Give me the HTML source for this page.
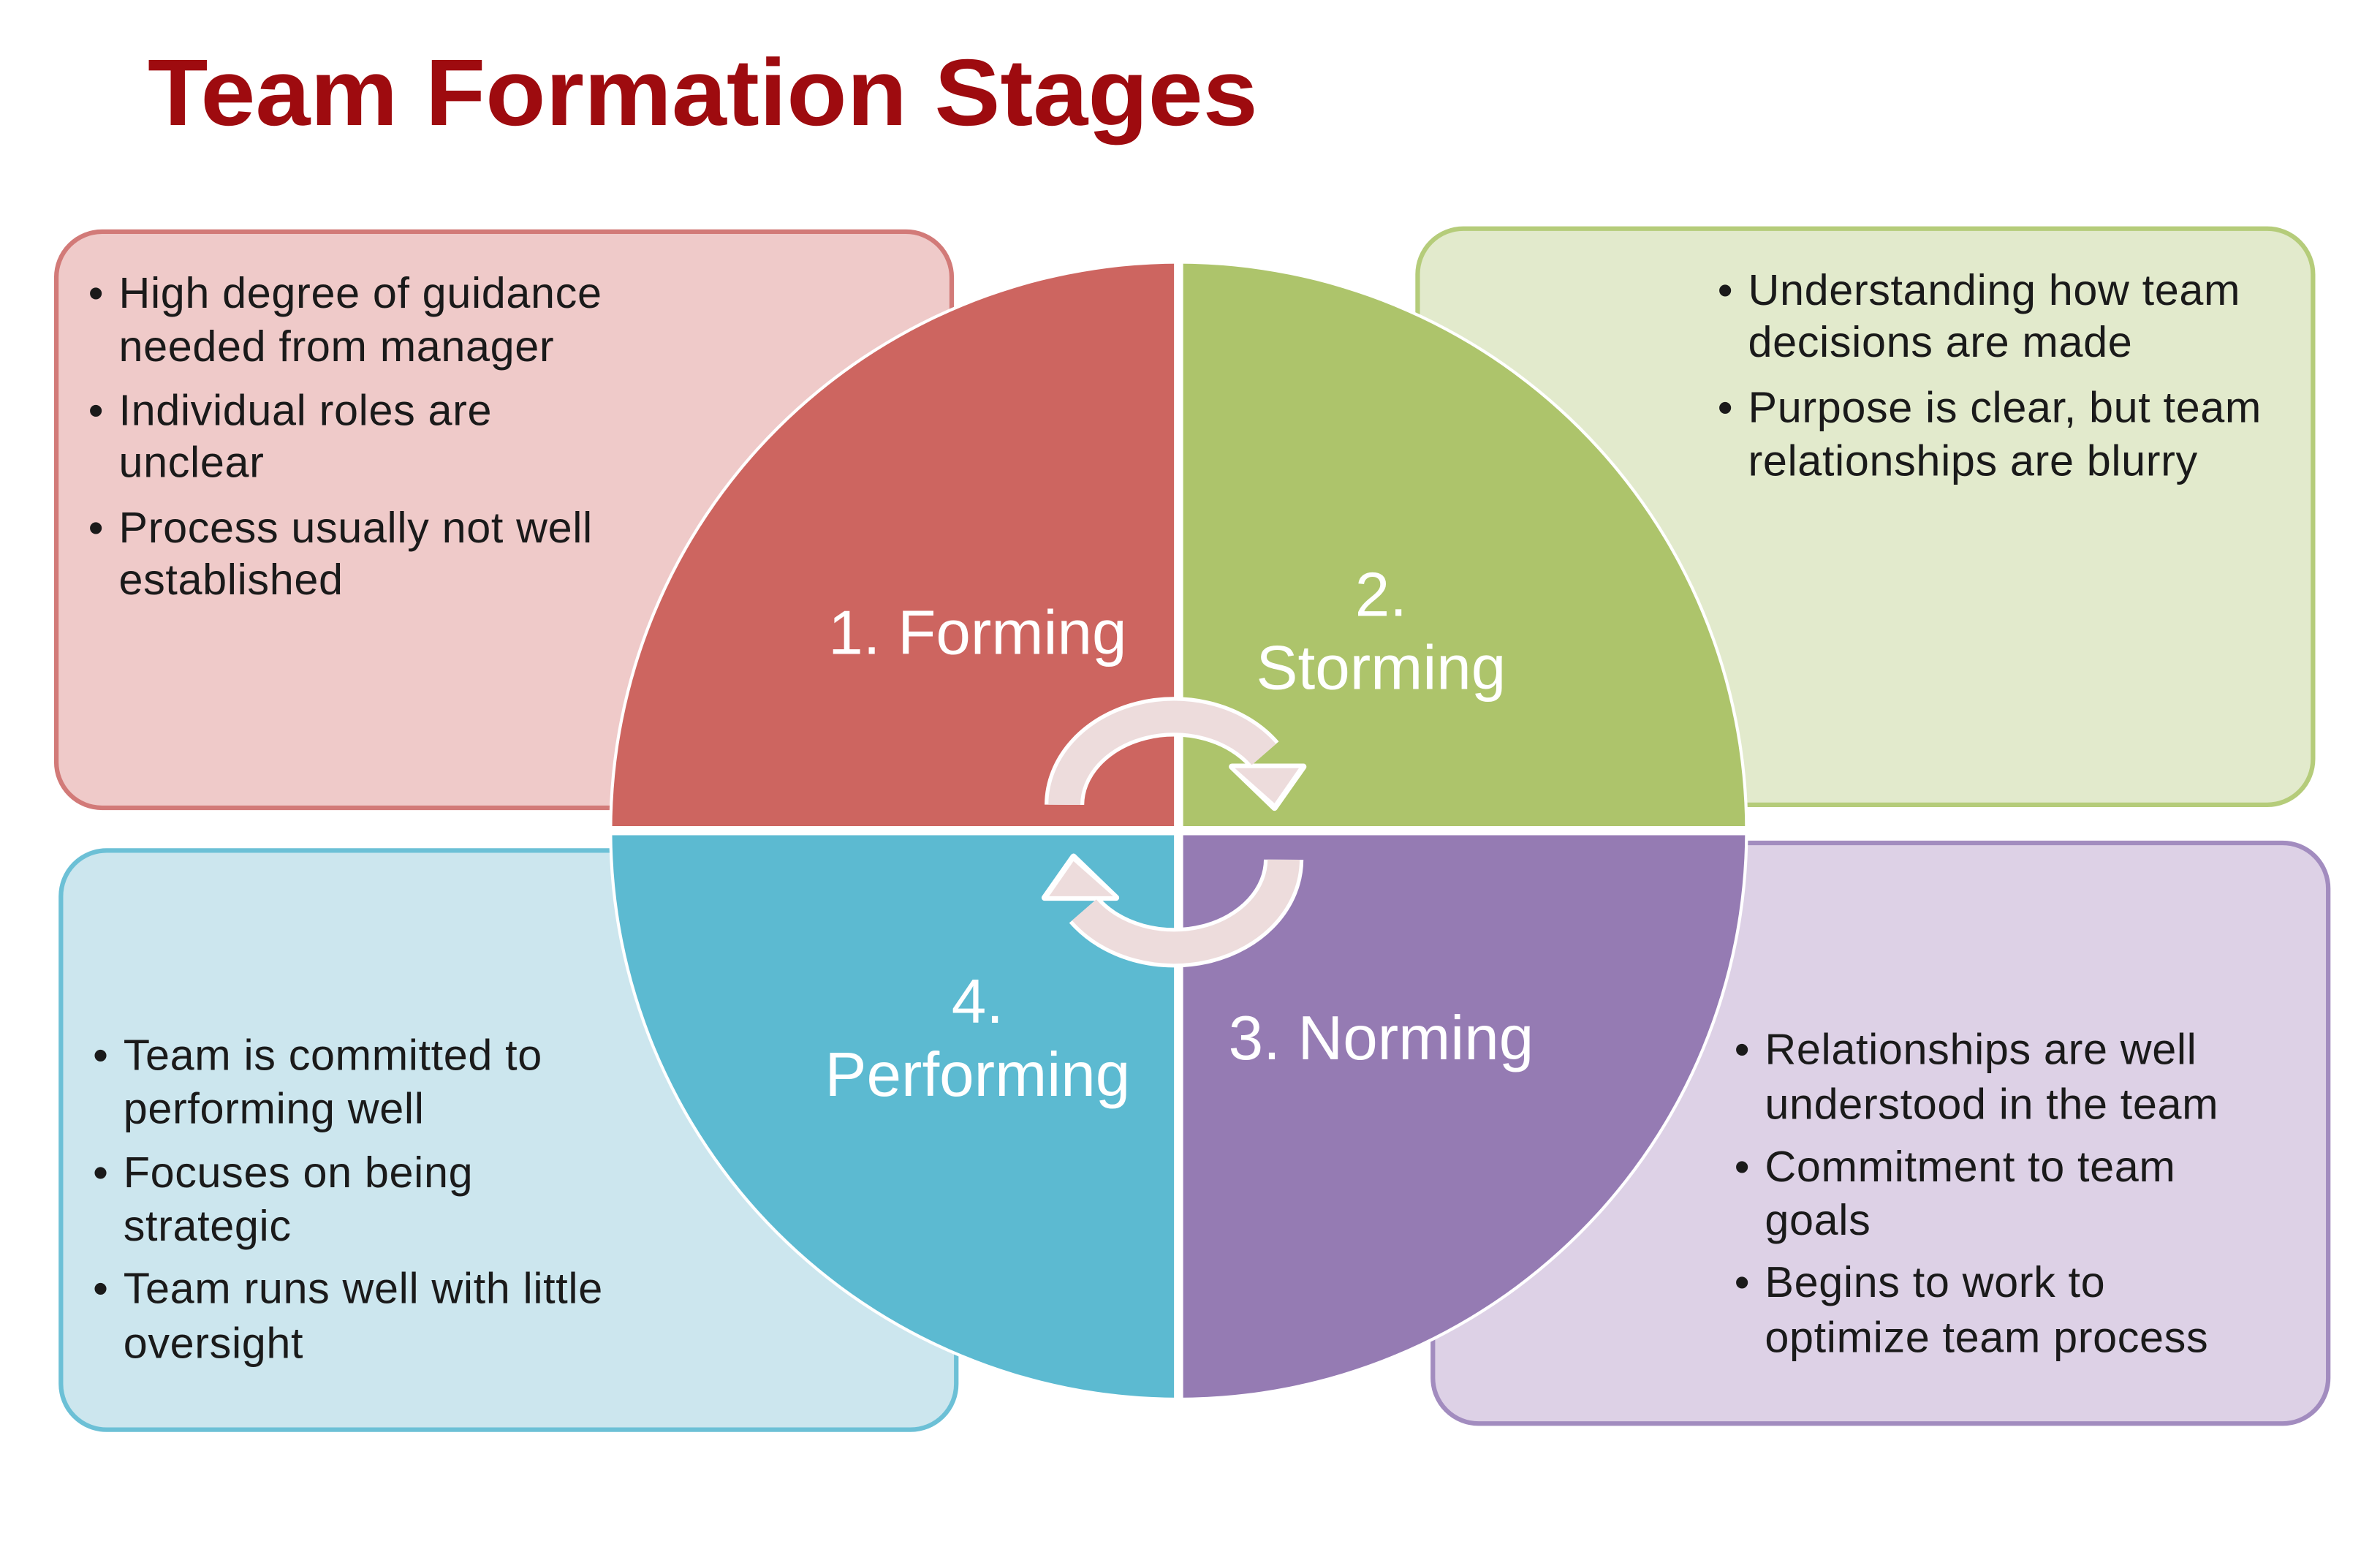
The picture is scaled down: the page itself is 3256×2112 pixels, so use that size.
<!DOCTYPE html>
<html><head><meta charset="utf-8"><style>
html,body{margin:0;padding:0;background:#fff;width:3256px;height:2112px;overflow:hidden}
svg{display:block}
text{font-family:"Liberation Sans",sans-serif}
</style></head><body>
<svg width="3256" height="2112" viewBox="0 0 1563 1013" preserveAspectRatio="none">
<text x="97" y="82" font-size="62" font-weight="bold" fill="#9e0b0f" textLength="729" lengthAdjust="spacingAndGlyphs">Team Formation Stages</text>

<rect x="37" y="152" width="588" height="378" rx="30" fill="#efcac9" stroke="#d27a78" stroke-width="3"/>
<rect x="931" y="150" width="588" height="378" rx="30" fill="#e2eacc" stroke="#b5cc7a" stroke-width="3"/>
<rect x="40" y="558" width="588" height="380" rx="30" fill="#cce6ee" stroke="#6cc0d6" stroke-width="3"/>
<rect x="941" y="553" width="588" height="381" rx="30" fill="#ddd1e6" stroke="#a28cbf" stroke-width="3"/>

<g font-size="28.5" letter-spacing="0.3" fill="#1a1a1a">
<text x="58" y="202">•</text><text x="78" y="202">High degree of guidance</text>
<text x="78" y="237">needed from manager</text>
<text x="58" y="279">•</text><text x="78" y="279">Individual roles are</text>
<text x="78" y="313">unclear</text>
<text x="58" y="356">•</text><text x="78" y="356">Process usually not well</text>
<text x="78" y="390">established</text>
</g>
<g font-size="28.5" letter-spacing="0.3" fill="#1a1a1a">
<text x="1128" y="200">•</text><text x="1148" y="200">Understanding how team</text>
<text x="1148" y="234">decisions are made</text>
<text x="1128" y="277">•</text><text x="1148" y="277">Purpose is clear, but team</text>
<text x="1148" y="312">relationships are blurry</text>
</g>
<g font-size="28.5" letter-spacing="0.3" fill="#1a1a1a">
<text x="61" y="702">•</text><text x="81" y="702">Team is committed to</text>
<text x="81" y="737">performing well</text>
<text x="61" y="779">•</text><text x="81" y="779">Focuses on being</text>
<text x="81" y="814">strategic</text>
<text x="61" y="855">•</text><text x="81" y="855">Team runs well with little</text>
<text x="81" y="891">oversight</text>
</g>
<g font-size="28.5" letter-spacing="0.3" fill="#1a1a1a">
<text x="1139" y="698">•</text><text x="1159" y="698">Relationships are well</text>
<text x="1159" y="734">understood in the team</text>
<text x="1139" y="775">•</text><text x="1159" y="775">Commitment to team</text>
<text x="1159" y="810">goals</text>
<text x="1139" y="851">•</text><text x="1159" y="851">Begins to work to</text>
<text x="1159" y="887">optimize team process</text>
</g>

<circle cx="774" cy="545" r="374" fill="#fff"/>
<path d="M774 545 L402 545 A372 372 0 0 1 774 173 Z" fill="#cd6560"/>
<path d="M774 545 L774 173 A372 372 0 0 1 1146 545 Z" fill="#adc46b"/>
<path d="M774 545 L1146 545 A372 372 0 0 1 774 917 Z" fill="#957bb3"/>
<path d="M774 545 L774 917 A372 372 0 0 1 402 545 Z" fill="#5cbad1"/>
<line x1="774" y1="170" x2="774" y2="920" stroke="#fff" stroke-width="6"/>
<line x1="399" y1="545" x2="1149" y2="545" stroke="#fff" stroke-width="6"/>

<g font-size="41" fill="#fff" text-anchor="middle">
<text x="642" y="429">1. Forming</text>
<text x="907" y="404">2.</text>
<text x="907" y="452">Storming</text>
<text x="642" y="671">4.</text>
<text x="642" y="719">Performing</text>
<text x="907" y="695">3. Norming</text>
</g>

<g>
<path d="M699 528 A72 58 0 0 1 830 495" fill="none" stroke="#fff" stroke-width="26"/>
<polygon points="809,503 856,503 837,530" fill="#fff" stroke="#fff" stroke-width="4" stroke-linejoin="round"/>
<path d="M699 528 A72 58 0 0 1 830 495" fill="none" stroke="#eddcdc" stroke-width="21"/>
<polygon points="811,504 853,504 837,527" fill="#eddcdc"/>
</g>
<g>
<path d="M843 564 A72 58 0 0 1 712 597" fill="none" stroke="#fff" stroke-width="26"/>
<polygon points="733,589 686,589 705,562" fill="#fff" stroke="#fff" stroke-width="4" stroke-linejoin="round"/>
<path d="M843 564 A72 58 0 0 1 712 597" fill="none" stroke="#eddcdc" stroke-width="21"/>
<polygon points="731,588 689,588 705,565" fill="#eddcdc"/>
</g>
</svg>
</body></html>
